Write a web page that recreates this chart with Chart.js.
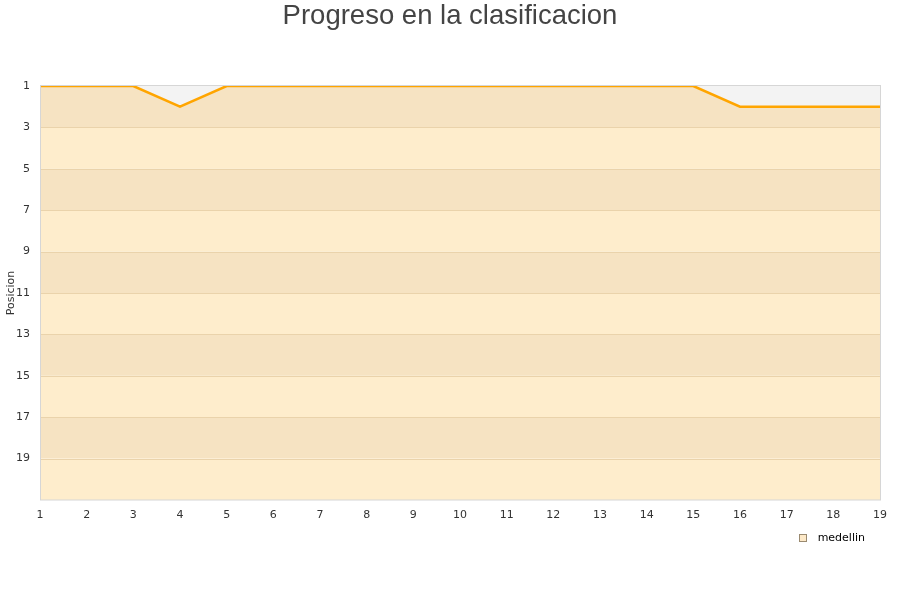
<!DOCTYPE html>
<html>
<head>
<meta charset="utf-8">
<script src="https://cdn.jsdelivr.net/npm/chart.js@4"></script>
<style>
  body { margin: 0; background: #fff; }
  #wrap { width: 900px; height: 600px; }
</style>
</head>
<body>
<div id="wrap"><canvas id="posChart" width="900" height="600"></canvas></div>
<script>
const jornadas = [1, 2, 3, 4, 5, 6, 7, 8, 9, 10, 11, 12, 13, 14, 15, 16, 17, 18, 19];
const medellin = [1, 1, 1, 2, 1, 1, 1, 1, 1, 1, 1, 1, 1, 1, 1, 2, 2, 2, 2];
const bandEdges = [1, 3, 5, 7, 9, 11, 13, 15, 17, 19, 21];

// fondo a bandas, borde del area y cuadrito de la leyenda
const bands = {
    id: 'bands',
    beforeDatasetsDraw(chart) {
        const { ctx, chartArea, scales } = chart;
        const y = scales.y;
        ctx.save();
        for (let i = 0; i < bandEdges.length - 1; i++) {
            const y1 = y.getPixelForValue(bandEdges[i]);
            const y2 = y.getPixelForValue(bandEdges[i + 1]);
            ctx.fillStyle = i % 2 === 0 ? '#f6e3c2' : '#feedcc';
            ctx.fillRect(chartArea.left, y1, chartArea.right - chartArea.left, y2 - y1);
        }
        ctx.strokeStyle = '#ead3ab';
        ctx.lineWidth = 1;
        for (let i = 1; i < bandEdges.length - 1; i++) {
            const yy = Math.round(y.getPixelForValue(bandEdges[i])) + 0.5;
            ctx.beginPath();
            ctx.moveTo(chartArea.left, yy);
            ctx.lineTo(chartArea.right, yy);
            ctx.stroke();
        }
        ctx.restore();
    },
    afterDatasetsDraw(chart) {
        const { ctx, chartArea } = chart;
        ctx.save();
        ctx.strokeStyle = '#d6d6d6';
        ctx.lineWidth = 1;
        ctx.strokeRect(Math.round(chartArea.left) + 0.5, Math.round(chartArea.top) - 0.5,
            Math.round(chartArea.right - chartArea.left), Math.round(chartArea.bottom - chartArea.top) + 0.5);
        ctx.restore();
    },
    afterDraw(chart) {
        const box = chart.legend && chart.legend.legendHitBoxes[0];
        if (!box) return;
        const ctx = chart.ctx;
        const top = Math.round(box.top + (box.height - 8) / 2) - 0.5;
        ctx.save();
        ctx.fillStyle = '#fde9c8';
        ctx.strokeStyle = '#9a8a70';
        ctx.lineWidth = 1;
        ctx.fillRect(Math.round(box.left) + 0.5, top, 7, 7);
        ctx.strokeRect(Math.round(box.left) + 0.5, top, 7, 7);
        ctx.restore();
    }
};

const ctx = document.getElementById('posChart').getContext('2d');
new Chart(ctx, {
    type: 'line',
    data: {
        labels: jornadas,
        datasets: [{
            label: 'medellin',
            data: medellin,
            borderColor: '#ffa500',
            borderWidth: 2.5,
            backgroundColor: '#f3f3f3',
            fill: { value: 1 },
            pointRadius: 0,
            tension: 0
        }]
    },
    options: {
        responsive: false,
        animation: false,
        layout: { padding: { left: 0, right: 0, top: 0, bottom: 46 } },
        plugins: {
            title: {
                display: true,
                text: 'Progreso en la clasificacion',
                color: '#444',
                font: { family: 'Liberation Sans, Arial, sans-serif', size: 27.5, weight: 'normal' },
                padding: { top: 0, bottom: 53 }
            },
            legend: {
                position: 'bottom',
                align: 'end',
                fullSize: false,
                labels: {
                    boxWidth: 13,
                    boxHeight: 8,
                    padding: 15,
                    color: '#000',
                    font: { family: 'DejaVu Sans', size: 11 },
                    generateLabels() {
                        return [{
                            text: 'medellin',
                            fillStyle: 'rgba(0,0,0,0)',
                            strokeStyle: 'rgba(0,0,0,0)',
                            lineWidth: 0,
                            fontColor: '#000',
                            datasetIndex: 0
                        }];
                    }
                }
            },
            tooltip: { enabled: false }
        },
        scales: {
            x: {
                grid: { display: false, drawTicks: false },
                border: { display: false },
                afterFit(scale) { scale.height = 18; },
                ticks: {
                    color: '#333',
                    font: { family: 'DejaVu Sans', size: 11 },
                    padding: 9,
                    maxRotation: 0,
                    autoSkip: false
                }
            },
            y: {
                reverse: true,
                min: 1,
                max: 21,
                grid: { display: false, drawTicks: false },
                border: { display: false },
                afterFit(scale) { scale.width = 40; },
                title: {
                    display: true,
                    text: 'Posicion',
                    color: '#333',
                    font: { family: 'DejaVu Sans', size: 11 },
                    padding: { top: 5, bottom: 2 }
                },
                ticks: {
                    stepSize: 2,
                    color: '#333',
                    font: { family: 'DejaVu Sans', size: 11 },
                    padding: 10,
                    callback: function(v) { return v === 21 ? '' : v; }
                }
            },
            yRight: {
                position: 'right',
                min: 0,
                max: 1,
                grid: { display: false, drawTicks: false },
                border: { display: false },
                ticks: { display: false },
                afterFit(scale) { scale.width = 20; }
            }
        }
    },
    plugins: [bands]
});
</script>
</body>
</html>
